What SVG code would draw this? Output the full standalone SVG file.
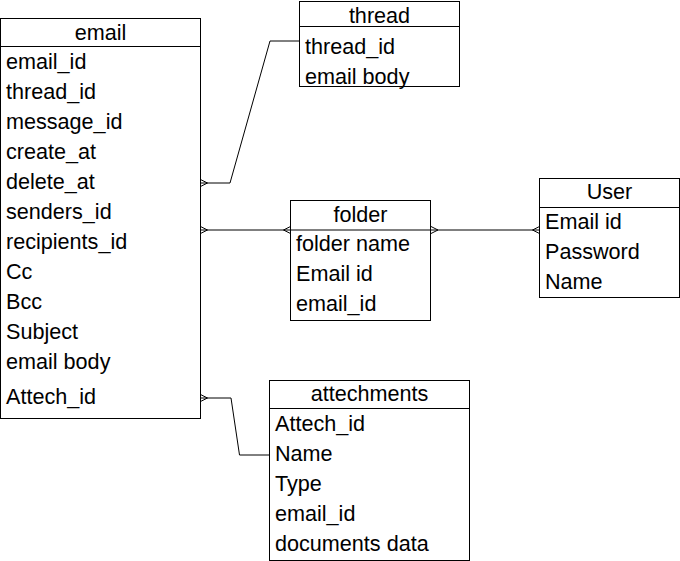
<svg xmlns="http://www.w3.org/2000/svg" width="680" height="561" viewBox="0 0 680 561">
<style>
rect.box{fill:#fff;stroke:#000;stroke-width:1}
line.div{stroke:#000;stroke-width:1}
text{font-family:"Liberation Sans",Arial,Helvetica,sans-serif;font-size:21.6px;fill:#000}
text.h{text-anchor:middle}
.conn path{fill:none;stroke:#000;stroke-width:1}
</style>
<rect width="680" height="561" fill="#fff"/>
<g id="connectors" class="conn">
<path d="M200.5,183 H230 L270,41 H300"/>
<path d="M200.5,230 H290"/>
<path d="M431,230 H539"/>
<path d="M200.5,398 H231 L239.5,455 H270"/>
<path d="M200.5,179.5 L207.5,183 L200.5,186.5"/>
<path d="M200.5,226.5 L207.5,230 L200.5,233.5"/>
<path d="M290.5,226.5 L283.5,230 L290.5,233.5"/>
<path d="M431,226.5 L438,230 L431,233.5"/>
<path d="M539.5,226.5 L532.5,230 L539.5,233.5"/>
<path d="M200.5,394.5 L207.5,398 L200.5,401.5"/>
</g>
<g id="email">
<rect class="box" x="0.5" y="18.5" width="200" height="400"/>
<line class="div" x1="0.5" y1="46.5" x2="200.5" y2="46.5"/>
<text class="h" x="100.5" y="40">email</text>
<text x="6" y="69">email_id</text>
<text x="6" y="99">thread_id</text>
<text x="6" y="129">message_id</text>
<text x="6" y="159">create_at</text>
<text x="6" y="189">delete_at</text>
<text x="6" y="219">senders_id</text>
<text x="6" y="249">recipients_id</text>
<text x="6" y="279">Cc</text>
<text x="6" y="309">Bcc</text>
<text x="6" y="339">Subject</text>
<text x="6" y="369">email body</text>
<text x="6" y="404">Attech_id</text>
</g>
<g id="thread">
<rect class="box" x="299.5" y="1.5" width="160" height="85"/>
<line class="div" x1="299.5" y1="26.5" x2="459.5" y2="26.5"/>
<text class="h" x="379.5" y="23">thread</text>
<text x="305" y="54">thread_id</text>
<text x="305" y="84">email body</text>
</g>
<g id="folder">
<rect class="box" x="290.5" y="200.5" width="140" height="120"/>
<line class="div" x1="290.5" y1="230" x2="430.5" y2="230"/>
<text class="h" x="360.5" y="222">folder</text>
<text x="296" y="251">folder name</text>
<text x="296" y="281">Email id</text>
<text x="296" y="311">email_id</text>
</g>
<g id="user">
<rect class="box" x="539.5" y="178.5" width="140" height="119"/>
<line class="div" x1="539.5" y1="207.5" x2="679.5" y2="207.5"/>
<text class="h" x="609.5" y="199">User</text>
<text x="545" y="229">Email id</text>
<text x="545" y="259">Password</text>
<text x="545" y="289">Name</text>
</g>
<g id="attechments">
<rect class="box" x="269.5" y="380.5" width="200" height="180"/>
<line class="div" x1="269.5" y1="408.5" x2="469.5" y2="408.5"/>
<text class="h" x="369.5" y="401">attechments</text>
<text x="275" y="431">Attech_id</text>
<text x="275" y="461">Name</text>
<text x="275" y="491">Type</text>
<text x="275" y="521">email_id</text>
<text x="275" y="551">documents data</text>
</g>
</svg>
